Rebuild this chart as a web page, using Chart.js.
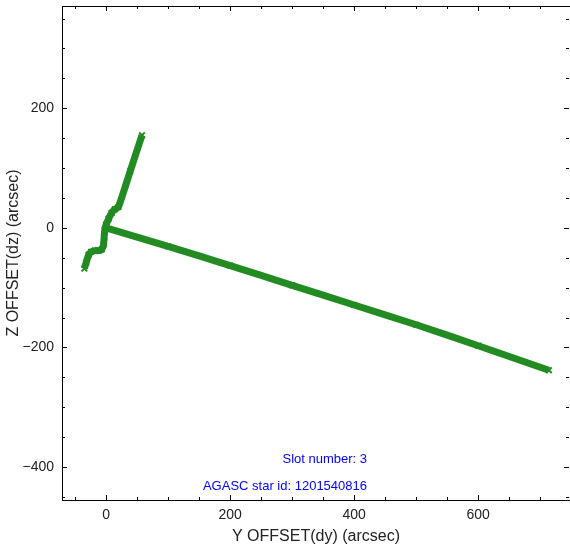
<!DOCTYPE html>
<html>
<head>
<meta charset="utf-8">
<script src="https://cdn.jsdelivr.net/npm/chart.js@4"></script>
<style>
	body { margin: 0; background: #fff; }
	canvas { display: block; }
</style>
</head>
<body>
<canvas id="offsets" width="570" height="550"></canvas>
<script>
// track while acquiring (dy, dz) in arcsec
const acqY = [-35, -32, -28, -24, -18, -12, -7, -4, -3, -2, 0, 4, 9, 14, 20, 39, 58];
const acqZ = [-68, -58, -45, -40, -38, -38, -36, -28, -15, -3, 5, 15, 25, 31, 35, 95, 155];

// long drift track
const driftY = [0, 100, 200, 300, 400, 500, 600, 714];
const driftZ = [0, -31, -63, -96, -129, -162, -197, -238];

const xTicks = [0, 200, 400, 600];
const yTicks = [-400, -200, 0, 200];
const xMinor = [-50, 0, 50, 100, 150, 200, 250, 300, 350, 400, 450, 500, 550, 600, 650, 700];
const yMinor = [-450, -400, -350, -300, -250, -200, -150, -100, -50, 0, 50, 100, 150, 200, 250, 300, 350];

const slotText = "Slot number: 3";
const starText = "AGASC star id: 1201540816";

const green = "#228B22";

const toPoints = (xs, ys) => xs.map((x, i) => ({ x: x, y: ys[i] }));

const trackStyle = {
	showLine: true,
	borderColor: green,
	borderWidth: 7,
	tension: 0.2,
	pointStyle: "crossRot",
	pointRadius: 4,
	pointBorderWidth: 2,
	pointBorderColor: green,
	backgroundColor: green
};

const minusSign = (v) => String(v).replace("-", "\u2212");

// ticks pointing inward on all four sides
const innerTicks = {
	id: "innerTicks",
	afterDraw(chart) {
		const ctx = chart.ctx;
		const a = chart.chartArea;
		const xs = chart.scales.x;
		const ys = chart.scales.y;
		ctx.save();
		ctx.strokeStyle = "#000";
		ctx.lineWidth = 1;
		ctx.beginPath();
		xMinor.forEach((v) => {
			const len = xTicks.includes(v) ? 5 : 3;
			const px = Math.round(xs.getPixelForValue(v)) + 0.5;
			ctx.moveTo(px, a.bottom);
			ctx.lineTo(px, a.bottom - len);
			ctx.moveTo(px, a.top);
			ctx.lineTo(px, a.top + len);
		});
		yMinor.forEach((v) => {
			const len = yTicks.includes(v) ? 5 : 3;
			const py = Math.round(ys.getPixelForValue(v)) + 0.5;
			ctx.moveTo(a.left, py);
			ctx.lineTo(a.left + len, py);
			ctx.moveTo(a.right - 1, py);
			ctx.lineTo(a.right - 1 - len, py);
		});
		// top frame line
		ctx.moveTo(a.left, a.top + 0.5);
		ctx.lineTo(a.right, a.top + 0.5);
		ctx.stroke();

		ctx.fillStyle = "#0000ff";
		ctx.font = "13px 'Liberation Sans', Arial, sans-serif";
		ctx.textAlign = "right";
		ctx.textBaseline = "middle";
		ctx.fillText(slotText, 367, 459);
		ctx.fillText(starText, 367, 486);
		ctx.restore();
	}
};

const font = { family: "'Liberation Sans', Arial, sans-serif", size: 14 };
const titleFont = { family: "'Liberation Sans', Arial, sans-serif", size: 16 };

const config = {
	type: "scatter",
	data: {
		datasets: [
			Object.assign({ data: toPoints(acqY, acqZ) }, trackStyle),
			Object.assign({ data: toPoints(driftY, driftZ) }, trackStyle)
		]
	},
	options: {
		responsive: false,
		animation: false,
		layout: { autoPadding: false, padding: { top: 6, right: 0, left: 0, bottom: 0 } },
		plugins: {
			legend: { display: false },
			tooltip: { enabled: false }
		},
		scales: {
			x: {
				type: "linear",
				min: -71,
				max: 748,
				grid: { display: false, drawTicks: false },
				border: { display: true, color: "#000", width: 1 },
				afterBuildTicks: (scale) => {
					scale.ticks = xTicks.map((v) => ({ value: v }));
				},
				afterFit: (scale) => {
					scale.height = 50;
					scale.paddingLeft = 0;
					scale.paddingRight = 0;
				},
				ticks: { font: font, color: "#222", padding: 7, maxRotation: 0, callback: minusSign },
				title: { display: true, text: "Y OFFSET(dy) (arcsec)", font: titleFont, color: "#222", padding: 4 }
			},
			y: {
				type: "linear",
				min: -455,
				max: 371,
				grid: { display: false, drawTicks: false },
				border: { display: true, color: "#000", width: 1 },
				afterBuildTicks: (scale) => {
					scale.ticks = yTicks.map((v) => ({ value: v }));
				},
				afterFit: (scale) => {
					scale.width = 62;
					scale.paddingTop = 0;
					scale.paddingBottom = 0;
				},
				ticks: { font: font, color: "#222", padding: 8, callback: minusSign },
				title: { display: true, text: "Z OFFSET(dz) (arcsec)", font: titleFont, color: "#222", padding: 4 }
			}
		}
	},
	plugins: [innerTicks]
};

new Chart(document.getElementById("offsets"), config);
</script>
</body>
</html>
